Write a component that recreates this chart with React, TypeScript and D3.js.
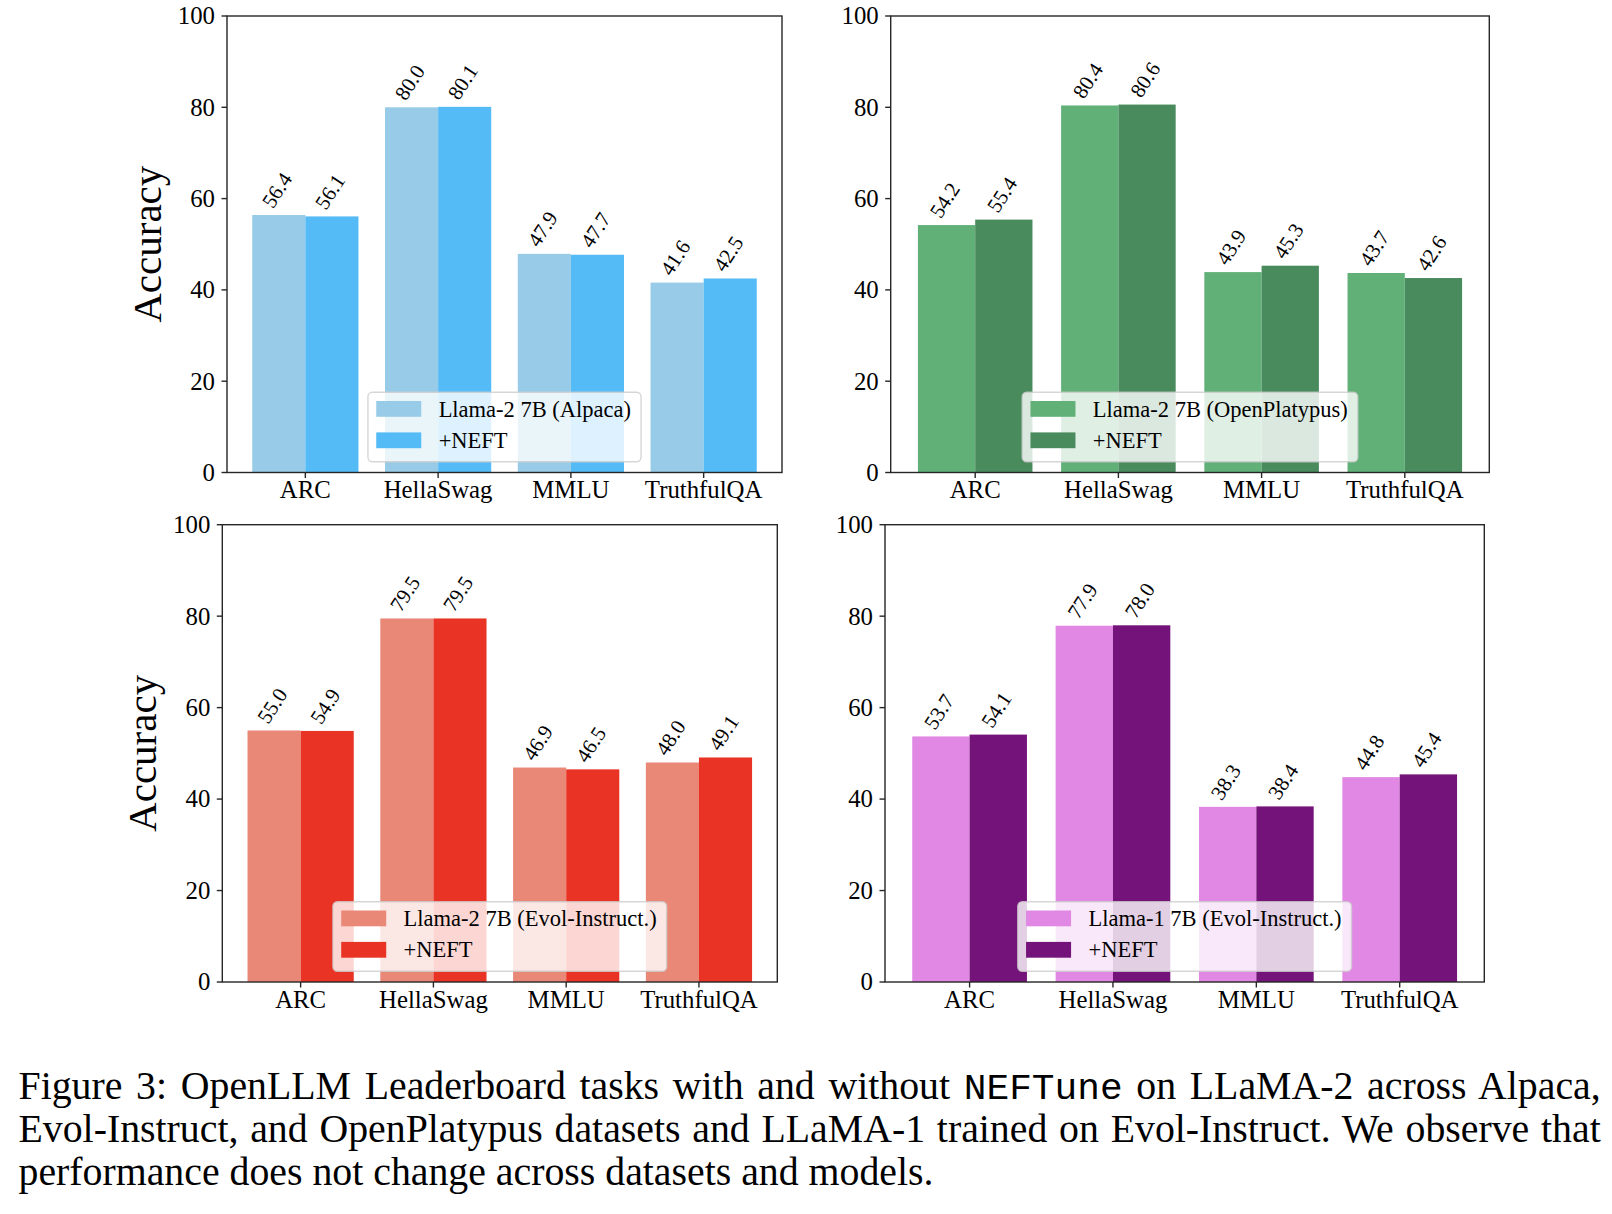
import React, { useEffect, useRef } from "react";
import * as d3 from "d3";

// ---------- data ----------
const categories = ["ARC", "HellaSwag", "MMLU", "TruthfulQA"];
const alpacaBase = [56.4, 80.0, 47.9, 41.6];
const alpacaNeft = [56.1, 80.1, 47.7, 42.5];
const platypusBase = [54.2, 80.4, 43.9, 43.7];
const platypusNeft = [55.4, 80.6, 45.3, 42.6];
const evol2Base = [55.0, 79.5, 46.9, 48.0];
const evol2Neft = [54.9, 79.5, 46.5, 49.1];
const evol1Base = [53.7, 77.9, 38.3, 44.8];
const evol1Neft = [54.1, 78.0, 38.4, 45.4];
const yTicks = [0, 20, 40, 60, 80, 100];
const baseLabels = [
  "Llama-2 7B (Alpaca)",
  "Llama-2 7B (OpenPlatypus)",
  "Llama-2 7B (Evol-Instruct.)",
  "Llama-1 7B (Evol-Instruct.)",
];
const neftLabel = "+NEFT";
const yLabel = "Accuracy";
const captionLine1a = "Figure 3: OpenLLM Leaderboard tasks with and without ";
const captionLine1b = "NEFTune";
const captionLine1c = " on LLaMA-2 across Alpaca,";
const captionLine2 =
  "Evol-Instruct, and OpenPlatypus datasets and LLaMA-1 trained on Evol-Instruct. We observe that";
const captionLine3 = "performance does not change across datasets and models.";

// ---------- layout / style ----------
const SERIF = "'Liberation Serif', 'Times New Roman', Times, serif";
const MONO = "'Liberation Mono', 'DejaVu Sans Mono', monospace";

const panels = [
  { base: alpacaBase, neft: alpacaNeft, label: baseLabels[0], c1: "#98cbe7", c2: "#55bbf7",
    left: 227, right: 782, top: 16, bottom: 472.5, ylab: true },
  { base: platypusBase, neft: platypusNeft, label: baseLabels[1], c1: "#60b078", c2: "#4a8b5e",
    left: 890.7, right: 1489.3, top: 16, bottom: 472.5, ylab: false },
  { base: evol2Base, neft: evol2Neft, label: baseLabels[2], c1: "#ea8878", c2: "#e93425",
    left: 222.3, right: 777.3, top: 524.7, bottom: 982, ylab: true },
  { base: evol1Base, neft: evol1Neft, label: baseLabels[3], c1: "#e088e4", c2: "#741379",
    left: 885, right: 1484.3, top: 524.7, bottom: 982, ylab: false },
];

export default function App() {
  const ref = useRef<SVGSVGElement | null>(null);

  useEffect(() => {
    const svg = d3.select(ref.current);
    svg.selectAll("*").remove();

    const tickFs = 24.8;
    const legFs = 22.5;
    const valFs = 21;
    const rot = 57;

    panels.forEach((p) => {
      const g = svg.append("g");
      const x = d3.scaleLinear().domain([-0.59, 3.59]).range([p.left, p.right]);
      const y = d3.scaleLinear().domain([0, 100]).range([p.bottom, p.top]);
      const bw = 0.4;

      // bars
      categories.forEach((_, i) => {
        g.append("rect")
          .attr("x", x(i - bw))
          .attr("y", y(p.base[i]))
          .attr("width", x(i) - x(i - bw))
          .attr("height", y(0) - y(p.base[i]))
          .attr("fill", p.c1);
        g.append("rect")
          .attr("x", x(i))
          .attr("y", y(p.neft[i]))
          .attr("width", x(i + bw) - x(i))
          .attr("height", y(0) - y(p.neft[i]))
          .attr("fill", p.c2);
      });

      // value labels (rotated, bbox centred above bar)
      const rad = (rot * Math.PI) / 180;
      const wText = 1.75 * valFs;
      const hText = 0.9 * valFs;
      const bbH = wText * Math.sin(rad) + hText * Math.cos(rad);
      const addVal = (cx: number, v: number) => {
        const cy = y(v) - 3 - bbH / 2;
        g.append("text")
          .attr("transform", `translate(${cx},${cy}) rotate(${-rot})`)
          .attr("y", 0.233 * valFs)
          .attr("text-anchor", "middle")
          .attr("font-family", SERIF)
          .attr("font-size", valFs)
          .attr("fill", "#000")
          .text(v.toFixed(1));
      };
      categories.forEach((_, i) => {
        addVal(x(i - bw / 2), p.base[i]);
        addVal(x(i + bw / 2), p.neft[i]);
      });

      // spines
      g.append("rect")
        .attr("x", p.left)
        .attr("y", p.top)
        .attr("width", p.right - p.left)
        .attr("height", p.bottom - p.top)
        .attr("fill", "none")
        .attr("stroke", "#262626")
        .attr("stroke-width", 1.4);

      // y ticks
      yTicks.forEach((t) => {
        g.append("line")
          .attr("x1", p.left - 5.5)
          .attr("x2", p.left)
          .attr("y1", y(t))
          .attr("y2", y(t))
          .attr("stroke", "#262626")
          .attr("stroke-width", 1.4);
        g.append("text")
          .attr("x", p.left - 12)
          .attr("y", y(t) + 0.338 * tickFs)
          .attr("text-anchor", "end")
          .attr("font-family", SERIF)
          .attr("font-size", tickFs)
          .attr("fill", "#000")
          .text(String(t));
      });

      // x ticks
      categories.forEach((c, i) => {
        g.append("line")
          .attr("x1", x(i))
          .attr("x2", x(i))
          .attr("y1", p.bottom)
          .attr("y2", p.bottom + 5.5)
          .attr("stroke", "#262626")
          .attr("stroke-width", 1.4);
        g.append("text")
          .attr("x", x(i))
          .attr("y", p.bottom + 25.5)
          .attr("text-anchor", "middle")
          .attr("font-family", SERIF)
          .attr("font-size", tickFs)
          .attr("fill", "#000")
          .text(c);
      });

      // y label
      if (p.ylab) {
        const cy = (p.top + p.bottom) / 2;
        const bx = p.left - 66;
        g.append("text")
          .attr("transform", `translate(${bx},${cy}) rotate(-90)`)
          .attr("text-anchor", "middle")
          .attr("font-family", SERIF)
          .attr("font-size", 41)
          .attr("fill", "#000")
          .text(yLabel);
      }

      // legend
      const lg = g.append("g");
      const frame = lg.append("rect");
      const t1 = lg.append("text")
        .attr("font-family", SERIF)
        .attr("font-size", legFs)
        .attr("fill", "#000")
        .text(p.label);
      const t2 = lg.append("text")
        .attr("font-family", SERIF)
        .attr("font-size", legFs)
        .attr("fill", "#000")
        .text(neftLabel);
      const tw = Math.max(
        (t1.node() as SVGTextElement).getComputedTextLength(),
        (t2.node() as SVGTextElement).getComputedTextLength()
      );
      const W = 8.3 + 45 + 17.4 + tw + 10;
      const H = 69.4;
      const bx0 = (p.left + p.right) / 2 - W / 2;
      const by0 = p.bottom - 10.8 - H;
      frame
        .attr("x", bx0)
        .attr("y", by0)
        .attr("width", W)
        .attr("height", H)
        .attr("rx", 4.5)
        .attr("ry", 4.5)
        .attr("fill", "#ffffff")
        .attr("fill-opacity", 0.8)
        .attr("stroke", "#cccccc")
        .attr("stroke-opacity", 0.8)
        .attr("stroke-width", 1.4);
      const rows = [
        { c: p.c1, t: t1, cy: by0 + 16.6 },
        { c: p.c2, t: t2, cy: by0 + 48.0 },
      ];
      rows.forEach((r) => {
        lg.append("rect")
          .attr("x", bx0 + 8.3)
          .attr("y", r.cy - 7.9)
          .attr("width", 45)
          .attr("height", 15.8)
          .attr("fill", r.c);
        r.t.attr("x", bx0 + 8.3 + 45 + 17.4).attr("y", r.cy + 7.6).raise();
      });
    });

    // caption
    const capFs = 39.8;
    const capLeft = 18.5;
    const capRight = 1600.7;
    const justify = (sel: d3.Selection<SVGTextElement, unknown, null, undefined>, str: string) => {
      const nat = (sel.node() as SVGTextElement).getComputedTextLength();
      const spaces = (str.match(/ /g) || []).length;
      const ws = (capRight - capLeft - nat) / spaces;
      sel.attr("word-spacing", ws);
    };
    const l1 = svg.append("text")
      .attr("x", capLeft)
      .attr("y", 1099)
      .attr("font-family", SERIF)
      .attr("font-size", capFs)
      .attr("fill", "#000")
      .attr("xml:space", "preserve")
      .style("white-space", "pre");
    l1.append("tspan").text(captionLine1a);
    l1.append("tspan").attr("font-family", MONO).attr("font-size", capFs * 0.95).text(captionLine1b);
    l1.append("tspan").text(captionLine1c);
    justify(l1 as any, captionLine1a + captionLine1b + captionLine1c);

    const l2 = svg.append("text")
      .attr("x", capLeft)
      .attr("y", 1142)
      .attr("font-family", SERIF)
      .attr("font-size", capFs)
      .attr("fill", "#000")
      .text(captionLine2);
    justify(l2 as any, captionLine2);

    svg.append("text")
      .attr("x", capLeft)
      .attr("y", 1185)
      .attr("font-family", SERIF)
      .attr("font-size", capFs)
      .attr("fill", "#000")
      .text(captionLine3);
  }, []);

  return (
    <svg
      ref={ref}
      width={1612}
      height={1214}
      style={{ position: "absolute", left: 0, top: 0, background: "#fff" }}
    />
  );
}
